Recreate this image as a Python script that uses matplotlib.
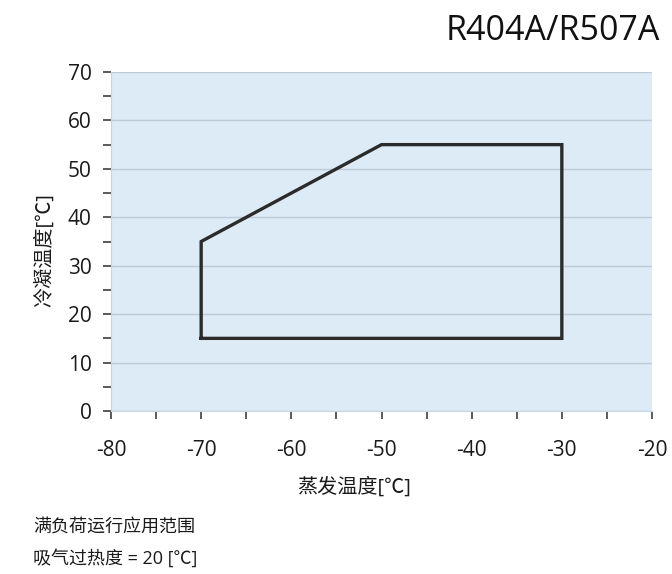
import matplotlib
matplotlib.use("Agg")
import matplotlib.pyplot as plt
from matplotlib.ticker import MultipleLocator

plt.rcParams['font.family'] = ['Open Sans', 'Noto Sans CJK SC', 'DejaVu Sans']
plt.rcParams['axes.unicode_minus'] = False

# Data: envelope polygon (evaporating temp, condensing temp)
evap = [-70, -70, -50, -30, -30, -70]
cond = [15, 35, 55, 55, 15, 15]
title = "R404A/R507A"
xlabel = "蒸发温度[℃]"
ylabel = "冷凝温度[℃]"
note1 = "满负荷运行应用范围"
note2 = "吸气过热度 = 20 [℃]"

fig = plt.figure(figsize=(6.72, 5.74), dpi=100)
ax = fig.add_axes([111/672, 1-411/574, (652-111)/672, (411-72)/574])
ax.set_facecolor('#dcebf6')
ax.set_xlim(-80, -20)
ax.set_ylim(0, 70)
ax.xaxis.set_major_locator(MultipleLocator(10))
ax.xaxis.set_minor_locator(MultipleLocator(5))
ax.yaxis.set_major_locator(MultipleLocator(10))
ax.yaxis.set_minor_locator(MultipleLocator(5))
ax.grid(True, which='major', axis='y', color='#bccbd7', linewidth=1)
ax.set_axisbelow(True)
for s in ['top', 'right']:
    ax.spines[s].set_visible(False)
ax.spines['left'].set_color('#c8d4de')
ax.spines['bottom'].set_color('#c8d4de')
ax.tick_params(which='both', direction='out', color='#5a5a5a', width=1.4, length=6,
               labelsize=15, labelcolor='#1a1a1a')
ax.tick_params(axis='x', which='both', pad=15)
ax.tick_params(axis='y', which='both', pad=8)

ax.plot(evap, cond, color='#2b2b2b', linewidth=2.4, solid_joinstyle='miter')

fig.text(660/672, 1-31/574, title, ha='right', va='center', fontsize=24.5, color='#111111')
fig.text(354/672, 1-488/574, xlabel, ha='center', va='center', fontsize=14.5, color='#1a1a1a')
fig.text(45/672, 1-250/574, ylabel, ha='center', va='center', rotation=90, fontsize=14.5, color='#1a1a1a')
fig.text(33/672, 1-527/574, note1, ha='left', va='center', fontsize=13, color='#1a1a1a')
fig.text(33/672, 1-558/574, note2, ha='left', va='center', fontsize=13, color='#1a1a1a')

fig.savefig('out.png', dpi=100)
